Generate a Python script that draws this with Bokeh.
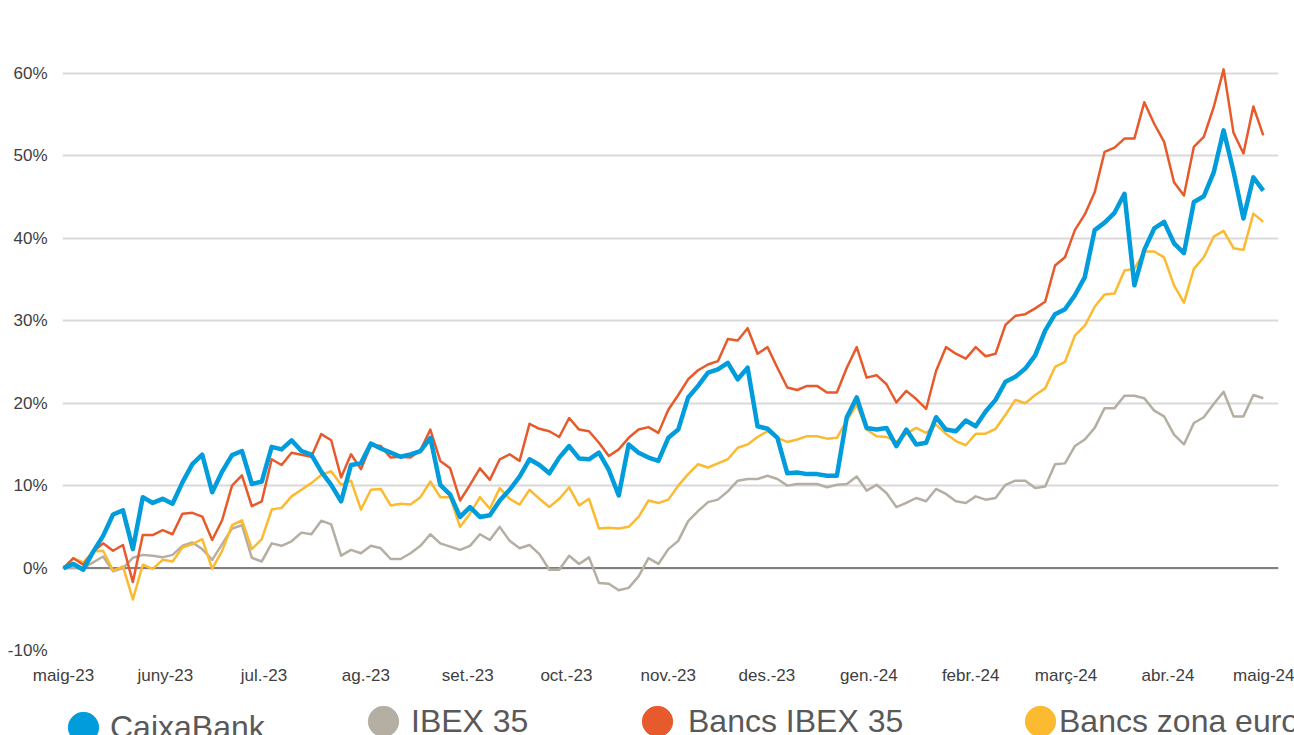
import pandas as pd
from datetime import datetime
from bokeh.plotting import figure
from bokeh.layouts import column
from bokeh.models import (Range1d, FixedTicker, PrintfTickFormatter, Span, BoxAnnotation,
                          Legend, LegendItem, ColumnDataSource)
from bokeh.embed import file_html
from bokeh.resources import INLINE

# ---------------- data ----------------
start_date = "2023-05-01"
end_date = "2024-04-30"
n_points = 122
dates = pd.date_range(start_date, end_date, periods=n_points)

caixabank = [
    0, 0.5, -0.2, 2.0, 3.9, 6.5, 7.0, 2.3, 8.6, 7.9,
    8.4, 7.8, 10.4, 12.6, 13.75, 9.2, 11.7, 13.7, 14.2, 10.2,
    10.5, 14.7, 14.4, 15.5, 14.2, 13.75, 11.7, 10.1, 8.1, 12.5,
    12.7, 15.1, 14.5, 14.0, 13.5, 13.8, 14.2, 15.8, 10.1, 8.9,
    6.2, 7.4, 6.2, 6.4, 8.2, 9.5, 11.1, 13.2, 12.5, 11.5,
    13.4, 14.8, 13.3, 13.2, 14.0, 11.9, 8.8, 15.0, 14.0, 13.4,
    13.0, 15.8, 16.8, 20.7, 22.1, 23.7, 24.1, 24.9, 22.9, 24.3,
    17.2, 16.9, 15.8, 11.5, 11.6, 11.4, 11.4, 11.2, 11.2, 18.3,
    20.7, 17.0, 16.8, 17.0, 14.8, 16.8, 15.0, 15.2, 18.3, 16.8,
    16.6, 17.9, 17.2, 19.0, 20.4, 22.6, 23.2, 24.2, 25.8, 28.8,
    30.8, 31.4, 33.1, 35.3, 41.0, 41.9, 43.1, 45.4, 34.3, 38.6,
    41.2, 42.0, 39.4, 38.2, 44.4, 45.1, 48.0, 53.1, 48.1, 42.4,
    47.4, 45.8,
]
ibex35 = [
    0, 0, 0, 0.7, 1.4, -0.4, 0, 1.25, 1.6, 1.5,
    1.3, 1.6, 2.7, 3.1, 2.3, 1.0, 2.9, 4.8, 5.2, 1.25,
    0.8, 3.0, 2.7, 3.25, 4.3, 4.1, 5.75, 5.3, 1.5, 2.2,
    1.8, 2.7, 2.4, 1.1, 1.1, 1.8, 2.7, 4.1, 3.0, 2.6,
    2.2, 2.7, 4.1, 3.4, 5.0, 3.3, 2.4, 2.8, 1.7, -0.2,
    -0.2, 1.5, 0.5, 1.3, -1.8, -1.9, -2.7, -2.4, -1.0, 1.2,
    0.5, 2.3, 3.3, 5.7, 6.9, 8.0, 8.3, 9.3, 10.6, 10.8,
    10.8, 11.2, 10.8, 10.0, 10.2, 10.2, 10.2, 9.8, 10.1, 10.2,
    11.1, 9.4, 10.1, 9.1, 7.4, 7.9, 8.5, 8.1, 9.6, 9.0,
    8.1, 7.9, 8.7, 8.3, 8.5, 10.1, 10.6, 10.6, 9.7, 9.9,
    12.6, 12.7, 14.8, 15.6, 17.0, 19.4, 19.4, 20.9, 20.9, 20.6,
    19.1, 18.4, 16.2, 15.0, 17.6, 18.3, 19.9, 21.4, 18.4, 18.4,
    21.0, 20.6,
]
bancs_ibex35 = [
    0, 1.2, 0.4, 2.0, 3.0, 2.1, 2.8, -1.7, 4.0, 4.0,
    4.6, 4.1, 6.6, 6.7, 6.25, 3.4, 5.8, 10.0, 11.25, 7.5,
    8.1, 13.2, 12.5, 14.0, 13.75, 13.5, 16.25, 15.5, 11.0, 13.8,
    12.0, 14.9, 14.8, 13.4, 13.5, 13.4, 14.3, 16.8, 13.0, 12.1,
    8.2, 10.1, 12.1, 10.7, 13.2, 13.8, 13.0, 17.5, 16.9, 16.6,
    15.9, 18.2, 16.8, 16.6, 15.2, 13.6, 14.4, 15.8, 16.8, 17.1,
    16.4, 19.2, 21.0, 22.9, 24.0, 24.7, 25.1, 27.8, 27.6, 29.1,
    26.0, 26.8, 24.3, 21.9, 21.6, 22.1, 22.1, 21.3, 21.3, 24.3,
    26.8, 23.1, 23.4, 22.3, 20.1, 21.5, 20.5, 19.3, 23.9, 26.8,
    26.0, 25.4, 26.8, 25.7, 26.0, 29.5, 30.6, 30.8, 31.5, 32.3,
    36.7, 37.7, 41.0, 42.9, 45.6, 50.5, 51.0, 52.1, 52.1, 56.5,
    53.9, 51.7, 46.8, 45.2, 51.1, 52.3, 55.9, 60.5, 52.8, 50.3,
    56.0, 52.5,
]
bancs_zona_euro = [
    0, 1.2, 0.7, 2.0, 2.1, -0.3, 0.2, -3.8, 0.4, -0.1,
    1.0, 0.8, 2.5, 2.9, 3.5, -0.1, 2.1, 5.2, 5.8, 2.3,
    3.5, 7.1, 7.3, 8.7, 9.5, 10.3, 11.3, 11.75, 10.1, 10.6,
    7.1, 9.5, 9.6, 7.6, 7.8, 7.7, 8.6, 10.5, 8.6, 8.6,
    5.0, 6.6, 8.6, 7.2, 9.7, 8.4, 7.7, 9.5, 8.4, 7.4,
    8.4, 9.8, 7.6, 8.4, 4.8, 4.9, 4.8, 5.0, 6.2, 8.2,
    7.9, 8.3, 10.0, 11.4, 12.6, 12.2, 12.7, 13.2, 14.6, 15.0,
    15.9, 16.6, 15.8, 15.3, 15.6, 16.0, 16.0, 15.7, 15.8, 17.9,
    19.8, 16.8, 16.0, 15.9, 15.3, 16.3, 17.0, 16.4, 17.4, 16.3,
    15.4, 14.9, 16.3, 16.3, 16.9, 18.6, 20.4, 20.0, 21.0, 21.8,
    24.4, 25.0, 28.2, 29.4, 31.7, 33.2, 33.3, 36.1, 36.3, 38.4,
    38.4, 37.7, 34.3, 32.2, 36.3, 37.7, 40.2, 40.9, 38.8, 38.6,
    43.0, 42.0,
]

series_names = ["CaixaBank", "IBEX 35", "Bancs IBEX 35", "Bancs zona euro"]
month_labels = ["maig-23", "juny-23", "jul.-23", "ag.-23", "set.-23", "oct.-23",
                "nov.-23", "des.-23", "gen.-24", "febr.-24", "març-24", "abr.-24",
                "maig-24"]
month_starts = pd.date_range("2023-05-01", periods=13, freq="MS")
y_ticks = [-10, 0, 10, 20, 30, 40, 50, 60]

# ---------------- styles ----------------
COL_CAIXA = "#009CDB"
COL_IBEX = "#B5AEA2"
COL_BANCS = "#E65A2B"
COL_EURO = "#FBBA30"
FONT = "Liberation Sans"

source = ColumnDataSource(dict(
    date=dates, caixa=caixabank, ibex=ibex35, bancs=bancs_ibex35, euro=bancs_zona_euro))

p = figure(width=1294, height=700, x_axis_type="datetime",
           output_backend="svg", toolbar_location=None,
           x_range=Range1d(datetime(2023, 4, 30, 17), datetime(2024, 5, 9, 12)),
           y_range=Range1d(-10, 64),
           min_border_left=62, min_border_right=0,
           min_border_top=40, min_border_bottom=50)
p.outline_line_color = None

# axes
tick_ms = [int(t.timestamp() * 1000) for t in month_starts]
p.xaxis.ticker = FixedTicker(ticks=tick_ms)
p.xaxis.major_label_overrides = {ms: lab for ms, lab in zip(tick_ms, month_labels)}
p.yaxis.ticker = FixedTicker(ticks=y_ticks)
p.yaxis.formatter = PrintfTickFormatter(format="%d%%")
for ax in (p.xaxis[0], p.yaxis[0]):
    ax.axis_line_color = None
    ax.major_tick_line_color = None
    ax.minor_tick_line_color = None
    ax.major_tick_out = 0
    ax.major_tick_in = 0
    ax.major_label_text_font = FONT
    ax.major_label_text_font_size = "17px"
    ax.major_label_text_color = "#404040"
p.xaxis.major_label_standoff = 15
p.yaxis.major_label_standoff = 15

p.xgrid.grid_line_color = None
p.ygrid.grid_line_color = "#D9D9D9"
p.ygrid.grid_line_width = 2

p.add_layout(Span(location=0, dimension="width", line_color="#808080",
                  line_width=2, level="underlay"))
# plot area ends before the right margin: blank out the strip beyond it
p.add_layout(BoxAnnotation(left=datetime(2024, 5, 4, 14), fill_color="white",
                           fill_alpha=1, line_alpha=0, level="underlay"))

# lines
p.line("date", "ibex", source=source, line_color=COL_IBEX, line_width=2.5, line_join="round")
p.line("date", "euro", source=source, line_color=COL_EURO, line_width=2.5, line_join="round")
p.line("date", "bancs", source=source, line_color=COL_BANCS, line_width=2.5, line_join="round")
p.line("date", "caixa", source=source, line_color=COL_CAIXA, line_width=4.5, line_join="round")

# ---------------- legend strip ----------------
leg = figure(width=1294, height=35, output_backend="svg", toolbar_location=None,
             x_range=Range1d(0, 1), y_range=Range1d(0, 1),
             x_axis_location=None, y_axis_location=None,
             min_border_left=0, min_border_right=0, min_border_top=0, min_border_bottom=0)
leg.outline_line_color = None
leg.grid.grid_line_color = None

# glyphs used by the legend (their data lie outside this strip's ranges)
marker_renderers = []
for col, c in zip(["caixa", "ibex", "bancs", "euro"], [COL_CAIXA, COL_IBEX, COL_BANCS, COL_EURO]):
    m = leg.ellipse(x="date", y=col, source=source, width=20, height=20,
                    width_units="screen", height_units="screen",
                    fill_color=c, line_color=c)
    marker_renderers.append(m)

# (x offset, y offset, label standoff) in screen pixels
legend_layout = [(2, -11, 8), (302, -5, 9), (576, -5, 12), (959, -5, 0)]
for name, m, (lx, ly, stand) in zip(series_names, marker_renderers, legend_layout):
    lg = Legend(items=[LegendItem(label=name, renderers=[m])],
                location=(lx, ly), orientation="horizontal",
                glyph_width=38, glyph_height=38, label_height=38,
                label_standoff=stand,
                padding=0, margin=0, spacing=0,
                label_text_font=FONT, label_text_font_size="32px",
                label_text_color="#595959",
                background_fill_alpha=0, border_line_alpha=0)
    leg.add_layout(lg, "center")

layout = column(p, leg, spacing=0)
open("out.html", "w").write(file_html(layout, INLINE))
